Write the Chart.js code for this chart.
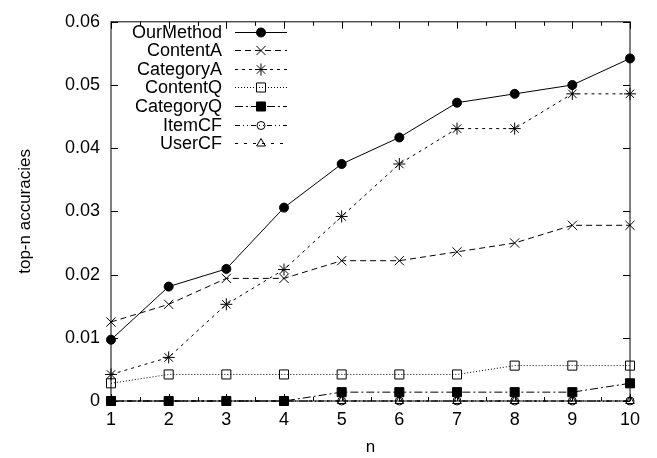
<!DOCTYPE html>
<html>
<head>
<meta charset="utf-8">
<script src="https://cdn.jsdelivr.net/npm/chart.js@4"></script>
<style>
  html, body { margin: 0; padding: 0; background: #fff; }
  #wrap { width: 657px; height: 458px; }
</style>
</head>
<body>
<div id="wrap"><canvas id="chart" width="657" height="458"></canvas></div>
<script>
const nValues = [1, 2, 3, 4, 5, 6, 7, 8, 9, 10];

const ourMethod  = [0.0097, 0.0181, 0.0209, 0.0306, 0.0375, 0.0417, 0.0472, 0.0486, 0.0500, 0.0542];
const contentA   = [0.0125, 0.0153, 0.0194, 0.0194, 0.0222, 0.0222, 0.0236, 0.0250, 0.0278, 0.0278];
const categoryA  = [0.0042, 0.0069, 0.0153, 0.0208, 0.0292, 0.0375, 0.0431, 0.0431, 0.0486, 0.0486];
const contentQ   = [0.0028, 0.0042, 0.0042, 0.0042, 0.0042, 0.0042, 0.0042, 0.0056, 0.0056, 0.0056];
const categoryQ  = [0, 0, 0, 0, 0.0014, 0.0014, 0.0014, 0.0014, 0.0014, 0.0028];
const itemCF     = [0, 0, 0, 0, 0, 0, 0, 0, 0, 0];
const userCF     = [0, 0, 0, 0, 0, 0, 0, 0, 0, 0];

const yTicks = [0, 0.01, 0.02, 0.03, 0.04, 0.05, 0.06];

const FONT = "'Liberation Sans', Arial, Helvetica, sans-serif";

function pts(values) {
  return values.map((v, i) => ({ x: nValues[i], y: v }));
}

function series(label, values, dash, style, radius, filled) {
  return {
    label,
    data: pts(values),
    borderColor: '#000',
    borderWidth: 1,
    borderDash: dash,
    pointStyle: style,
    pointRadius: radius,
    pointBorderColor: '#000',
    pointBorderWidth: 1,
    pointBackgroundColor: filled ? '#000' : 'rgba(0,0,0,0)',
    tension: 0,
    fill: false,
    clip: false
  };
}

const datasets = [
  series('OurMethod', ourMethod, [], 'circle', 4.5, true),
  series('ContentA', contentA, [6, 4], 'crossRot', 6.5, false),
  series('CategoryA', categoryA, [3, 4], 'star', 6, false),
  series('ContentQ', contentQ, [1, 2], 'rect', 6.4, false),
  series('CategoryQ', categoryQ, [8, 3, 2, 3], 'rect', 6.4, true),
  series('ItemCF', itemCF, [5, 3, 1, 3, 1, 3], 'circle', 4, false),
  series('UserCF', userCF, [3, 6], 'triangle', 5, false)
];

// gnuplot style frame with inward ticks
const frame = {
  id: 'frame',
  beforeDatasetsDraw(chart) {
    const { ctx, chartArea: a, scales: { x, y } } = chart;
    ctx.save();
    ctx.strokeStyle = '#000';
    ctx.lineWidth = 1;
    ctx.strokeRect(a.left, a.top, a.right - a.left, a.bottom - a.top);
    ctx.beginPath();
    yTicks.forEach(v => {
      const py = Math.round(y.getPixelForValue(v)) + 0.5;
      ctx.moveTo(a.left, py); ctx.lineTo(a.left + 7, py);
      ctx.moveTo(a.right, py); ctx.lineTo(a.right - 7, py);
    });
    for (let v = 1; v <= 10; v += 0.5) {
      const px = Math.round(x.getPixelForValue(v)) + 0.5;
      const len = Number.isInteger(v) ? 7 : 4;
      ctx.moveTo(px, a.bottom); ctx.lineTo(px, a.bottom - len);
      ctx.moveTo(px, a.top); ctx.lineTo(px, a.top + len);
    }
    ctx.stroke();
    ctx.restore();
  },
  afterDatasetsDraw(chart) {
    const { ctx } = chart;
    const textRight = 222, lineL = 235, lineR = 287, top = 31.5, step = 18.6;
    ctx.save();
    ctx.font = '18px ' + FONT;
    ctx.textAlign = 'right';
    ctx.textBaseline = 'middle';
    ctx.fillStyle = '#000';
    chart.data.datasets.forEach((ds, i) => {
      const yy = Math.round(top + i * step) + 0.5;
      ctx.fillText(ds.label, textRight, yy + 1);
      ctx.strokeStyle = ds.borderColor;
      ctx.lineWidth = ds.borderWidth;
      ctx.setLineDash(ds.borderDash);
      ctx.beginPath();
      ctx.moveTo(lineL, yy); ctx.lineTo(lineR, yy);
      ctx.stroke();
      ctx.setLineDash([]);
      ctx.fillStyle = ds.pointBackgroundColor;
      ctx.strokeStyle = ds.pointBorderColor;
      ctx.lineWidth = ds.pointBorderWidth;
      Chart.helpers.drawPoint(ctx, { pointStyle: ds.pointStyle, radius: ds.pointRadius, borderWidth: 1, rotation: 0 }, (lineL + lineR) / 2, yy);
      ctx.fillStyle = '#000';
    });
    ctx.restore();
  }
};

new Chart(document.getElementById('chart'), {
  type: 'line',
  data: { datasets },
  options: {
    responsive: false,
    animation: false,
    layout: { padding: { top: 12, right: 27, left: 0, bottom: 0 } },
    plugins: { legend: { display: false }, tooltip: { enabled: false } },
    scales: {
      x: {
        type: 'linear',
        min: 1,
        max: 10,
        grid: { display: false, drawTicks: false },
        border: { display: false },
        ticks: {
          stepSize: 1,
          padding: 8,
          color: '#000',
          font: { family: FONT, size: 18 }
        },
        title: {
          display: true,
          text: 'n',
          color: '#000',
          font: { family: FONT, size: 17 },
          padding: { top: 4, bottom: 0 }
        },
        afterFit(scale) { scale.height = 57; }
      },
      y: {
        min: 0,
        max: 0.06,
        grid: { display: false, drawTicks: false },
        border: { display: false },
        ticks: {
          stepSize: 0.01,
          padding: 11,
          color: '#000',
          font: { family: FONT, size: 18 },
          callback: v => (v === 0 ? '0' : v.toFixed(2))
        },
        title: {
          display: true,
          text: 'top-n accuracies',
          color: '#000',
          font: { family: FONT, size: 17 },
          padding: { top: 15, bottom: 0 }
        },
        afterFit(scale) { scale.width = 111; }
      }
    }
  },
  plugins: [frame]
});
</script>
</body>
</html>
